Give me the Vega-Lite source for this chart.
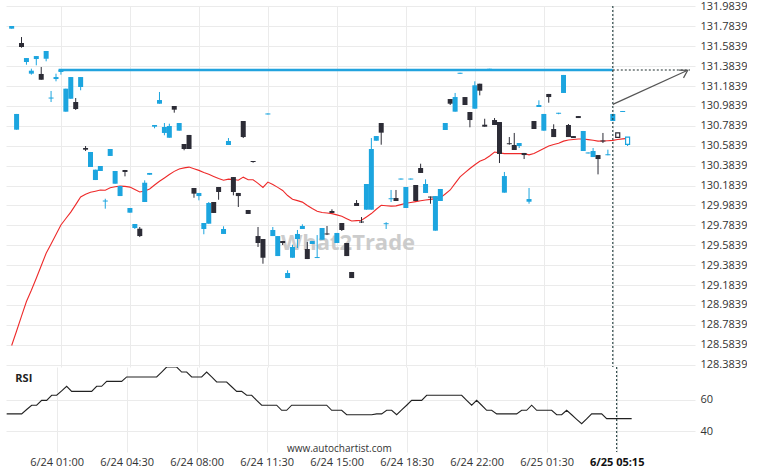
{
"$schema": "https://vega.github.io/schema/vega-lite/v6.json",
"padding": {"left": 6, "top": 0, "right": 0, "bottom": 0},
"bounds": "flush",
"spacing": 0,
"config": {"view": {"stroke": null}, "font": "Open Sans", "axis": {"gridColor": "#ebebeb", "domain": false, "ticks": false, "labelColor": "#333333", "labelFontSize": 11, "labelOverlap": false}},
"datasets": {
"k": [
{"t":"2024-06-23T22:30Z","o":131.760,"c":131.787,"h":131.787,"l":131.760,"ma":128.576,"rsi":51},
{"t":"2024-06-23T22:45Z","o":130.745,"c":130.903,"h":130.903,"l":130.745,"ma":128.722,"rsi":51},
{"t":"2024-06-23T23:00Z","o":131.616,"c":131.576,"h":131.676,"l":131.569,"ma":128.872,"rsi":51},
{"t":"2024-06-23T23:15Z","o":131.425,"c":131.465,"h":131.465,"l":131.398,"ma":129.018,"rsi":51},
{"t":"2024-06-23T23:30Z","o":131.308,"c":131.338,"h":131.358,"l":131.298,"ma":129.131,"rsi":53.8},
{"t":"2024-06-23T23:45Z","o":131.455,"c":131.485,"h":131.485,"l":131.392,"ma":129.252,"rsi":56.5},
{"t":"2024-06-24T00:00Z","o":131.305,"c":131.247,"h":131.375,"l":131.247,"ma":129.378,"rsi":56.5},
{"t":"2024-06-24T00:15Z","o":131.458,"c":131.536,"h":131.536,"l":131.432,"ma":129.503,"rsi":59.6},
{"t":"2024-06-24T00:30Z","o":131.058,"c":131.068,"h":131.134,"l":131.023,"ma":129.596,"rsi":59.6},
{"t":"2024-06-24T00:45Z","o":131.254,"c":131.274,"h":131.308,"l":131.231,"ma":129.691,"rsi":62.8},
{"t":"2024-06-24T01:00Z","o":131.325,"c":131.348,"h":131.348,"l":131.298,"ma":129.787,"rsi":62.8},
{"t":"2024-06-24T01:15Z","o":130.926,"c":131.157,"h":131.157,"l":130.926,"ma":129.852,"rsi":65.6},
{"t":"2024-06-24T01:30Z","o":131.056,"c":131.274,"h":131.274,"l":131.056,"ma":129.916,"rsi":68.5},
{"t":"2024-06-24T01:45Z","o":131.023,"c":130.953,"h":131.063,"l":130.943,"ma":129.992,"rsi":65.3},
{"t":"2024-06-24T02:00Z","o":131.174,"c":131.274,"h":131.274,"l":131.141,"ma":130.069,"rsi":65.3},
{"t":"2024-06-24T02:15Z","o":130.561,"c":130.544,"h":130.581,"l":130.531,"ma":130.096,"rsi":65.3},
{"t":"2024-06-24T02:30Z","o":130.370,"c":130.521,"h":130.521,"l":130.370,"ma":130.116,"rsi":65.3},
{"t":"2024-06-24T02:45Z","o":130.239,"c":130.343,"h":130.343,"l":130.239,"ma":130.127,"rsi":65.3},
{"t":"2024-06-24T03:00Z","o":130.330,"c":130.380,"h":130.380,"l":130.330,"ma":130.139,"rsi":68.5},
{"t":"2024-06-24T03:15Z","o":130.023,"c":130.033,"h":130.051,"l":129.951,"ma":130.137,"rsi":68.5},
{"t":"2024-06-24T03:30Z","o":130.481,"c":130.551,"h":130.551,"l":130.481,"ma":130.162,"rsi":71.6},
{"t":"2024-06-24T03:45Z","o":130.202,"c":130.330,"h":130.330,"l":130.202,"ma":130.172,"rsi":71.6},
{"t":"2024-06-24T04:00Z","o":130.078,"c":130.179,"h":130.179,"l":130.078,"ma":130.178,"rsi":71.6},
{"t":"2024-06-24T04:15Z","o":130.340,"c":130.320,"h":130.340,"l":130.276,"ma":130.175,"rsi":71.6},
{"t":"2024-06-24T04:30Z","o":129.911,"c":129.958,"h":129.958,"l":129.911,"ma":130.168,"rsi":74.4},
{"t":"2024-06-24T04:45Z","o":129.757,"c":129.797,"h":129.797,"l":129.747,"ma":130.143,"rsi":74.4},
{"t":"2024-06-24T05:00Z","o":129.750,"c":129.676,"h":129.767,"l":129.666,"ma":130.119,"rsi":74.4},
{"t":"2024-06-24T05:15Z","o":130.018,"c":130.212,"h":130.236,"l":130.018,"ma":130.129,"rsi":74.4},
{"t":"2024-06-24T05:30Z","o":130.292,"c":130.310,"h":130.310,"l":130.292,"ma":130.149,"rsi":74.4},
{"t":"2024-06-24T05:45Z","o":130.775,"c":130.792,"h":130.792,"l":130.759,"ma":130.189,"rsi":74.4},
{"t":"2024-06-24T06:00Z","o":131.006,"c":131.043,"h":131.124,"l":131.006,"ma":130.227,"rsi":74.4},
{"t":"2024-06-24T06:15Z","o":130.712,"c":130.772,"h":130.812,"l":130.689,"ma":130.260,"rsi":77.5},
{"t":"2024-06-24T06:30Z","o":130.664,"c":130.782,"h":130.805,"l":130.664,"ma":130.294,"rsi":80.7},
{"t":"2024-06-24T06:45Z","o":130.983,"c":130.946,"h":130.983,"l":130.916,"ma":130.326,"rsi":80.7},
{"t":"2024-06-24T07:00Z","o":130.735,"c":130.812,"h":130.812,"l":130.735,"ma":130.350,"rsi":80.7},
{"t":"2024-06-24T07:15Z","o":130.601,"c":130.551,"h":130.601,"l":130.538,"ma":130.361,"rsi":77.5},
{"t":"2024-06-24T07:30Z","o":130.692,"c":130.551,"h":130.692,"l":130.551,"ma":130.369,"rsi":77.5},
{"t":"2024-06-24T07:45Z","o":130.159,"c":130.102,"h":130.159,"l":130.061,"ma":130.353,"rsi":74.4},
{"t":"2024-06-24T08:00Z","o":130.078,"c":130.109,"h":130.109,"l":130.035,"ma":130.336,"rsi":74.4},
{"t":"2024-06-24T08:15Z","o":129.747,"c":129.807,"h":129.807,"l":129.694,"ma":130.315,"rsi":74.4},
{"t":"2024-06-24T08:30Z","o":129.800,"c":130.008,"h":130.018,"l":129.800,"ma":130.296,"rsi":77.5},
{"t":"2024-06-24T08:45Z","o":130.018,"c":129.908,"h":130.018,"l":129.908,"ma":130.275,"rsi":74.4},
{"t":"2024-06-24T09:00Z","o":130.169,"c":130.119,"h":130.169,"l":130.041,"ma":130.255,"rsi":71.2},
{"t":"2024-06-24T09:15Z","o":129.697,"c":129.747,"h":129.774,"l":129.697,"ma":130.237,"rsi":71.2},
{"t":"2024-06-24T09:30Z","o":130.591,"c":130.631,"h":130.661,"l":130.591,"ma":130.248,"rsi":71.2},
{"t":"2024-06-24T09:45Z","o":130.269,"c":130.119,"h":130.269,"l":130.085,"ma":130.245,"rsi":68.2},
{"t":"2024-06-24T10:00Z","o":130.109,"c":130.078,"h":130.109,"l":129.968,"ma":130.237,"rsi":65.3},
{"t":"2024-06-24T10:15Z","o":130.832,"c":130.671,"h":130.832,"l":130.661,"ma":130.268,"rsi":65.3},
{"t":"2024-06-24T10:30Z","o":129.938,"c":129.898,"h":129.938,"l":129.898,"ma":130.242,"rsi":62.8},
{"t":"2024-06-24T10:45Z","o":130.430,"c":130.420,"h":130.430,"l":130.413,"ma":130.242,"rsi":62.8},
{"t":"2024-06-24T11:00Z","o":129.676,"c":129.606,"h":129.767,"l":129.566,"ma":130.205,"rsi":59.6},
{"t":"2024-06-24T11:15Z","o":129.646,"c":129.458,"h":129.646,"l":129.398,"ma":130.164,"rsi":56.5},
{"t":"2024-06-24T11:30Z","o":130.898,"c":130.908,"h":130.908,"l":130.898,"ma":130.218,"rsi":56.5},
{"t":"2024-06-24T11:45Z","o":129.676,"c":129.737,"h":129.767,"l":129.676,"ma":130.193,"rsi":56.5},
{"t":"2024-06-24T12:00Z","o":129.475,"c":129.676,"h":129.676,"l":129.475,"ma":130.165,"rsi":56.5},
{"t":"2024-06-24T12:15Z","o":129.626,"c":129.606,"h":129.626,"l":129.586,"ma":130.134,"rsi":53.3},
{"t":"2024-06-24T12:30Z","o":129.254,"c":129.305,"h":129.332,"l":129.254,"ma":130.083,"rsi":53.3},
{"t":"2024-06-24T12:45Z","o":129.458,"c":129.566,"h":129.589,"l":129.458,"ma":130.046,"rsi":56.5},
{"t":"2024-06-24T13:00Z","o":129.646,"c":129.697,"h":129.737,"l":129.556,"ma":130.032,"rsi":56.5},
{"t":"2024-06-24T13:15Z","o":129.747,"c":129.777,"h":129.794,"l":129.747,"ma":130.017,"rsi":56.5},
{"t":"2024-06-24T13:30Z","o":129.546,"c":129.445,"h":129.616,"l":129.445,"ma":129.983,"rsi":56.5},
{"t":"2024-06-24T13:45Z","o":129.596,"c":129.626,"h":129.626,"l":129.596,"ma":129.952,"rsi":56.5},
{"t":"2024-06-24T14:00Z","o":129.455,"c":129.465,"h":129.686,"l":129.455,"ma":129.926,"rsi":56.5},
{"t":"2024-06-24T14:15Z","o":129.639,"c":129.757,"h":129.757,"l":129.639,"ma":129.913,"rsi":56.5},
{"t":"2024-06-24T14:30Z","o":129.702,"c":129.692,"h":129.777,"l":129.686,"ma":129.907,"rsi":56.5},
{"t":"2024-06-24T14:45Z","o":129.928,"c":129.908,"h":129.945,"l":129.908,"ma":129.901,"rsi":53.3},
{"t":"2024-06-24T15:00Z","o":129.606,"c":129.707,"h":129.707,"l":129.606,"ma":129.889,"rsi":53.3},
{"t":"2024-06-24T15:15Z","o":129.807,"c":129.737,"h":129.807,"l":129.727,"ma":129.876,"rsi":53.3},
{"t":"2024-06-24T15:30Z","o":129.606,"c":129.475,"h":129.606,"l":129.475,"ma":129.851,"rsi":50.5},
{"t":"2024-06-24T15:45Z","o":129.315,"c":129.254,"h":129.315,"l":129.254,"ma":129.827,"rsi":50.5},
{"t":"2024-06-24T16:00Z","o":130.008,"c":129.978,"h":130.038,"l":129.978,"ma":129.831,"rsi":50.5},
{"t":"2024-06-24T16:15Z","o":129.822,"c":129.812,"h":129.867,"l":129.807,"ma":129.835,"rsi":50.5},
{"t":"2024-06-24T16:30Z","o":129.941,"c":130.199,"h":130.199,"l":129.941,"ma":129.868,"rsi":50.5},
{"t":"2024-06-24T16:45Z","o":129.941,"c":130.551,"h":130.661,"l":129.941,"ma":129.902,"rsi":50.5},
{"t":"2024-06-24T17:00Z","o":130.634,"c":130.681,"h":130.681,"l":130.634,"ma":129.945,"rsi":51},
{"t":"2024-06-24T17:15Z","o":130.812,"c":130.715,"h":130.812,"l":130.594,"ma":129.985,"rsi":51},
{"t":"2024-06-24T17:30Z","o":129.795,"c":129.805,"h":129.815,"l":129.747,"ma":129.981,"rsi":53.3},
{"t":"2024-06-24T17:45Z","o":130.046,"c":130.056,"h":130.139,"l":130.018,"ma":129.977,"rsi":53.3},
{"t":"2024-06-24T18:00Z","o":130.058,"c":130.028,"h":130.139,"l":130.028,"ma":129.979,"rsi":50.5},
{"t":"2024-06-24T18:15Z","o":130.244,"c":130.254,"h":130.254,"l":130.244,"ma":129.992,"rsi":53.5},
{"t":"2024-06-24T18:30Z","o":129.958,"c":130.169,"h":130.169,"l":129.958,"ma":130.005,"rsi":56.5},
{"t":"2024-06-24T18:45Z","o":130.244,"c":130.254,"h":130.254,"l":130.244,"ma":130.014,"rsi":59.6},
{"t":"2024-06-24T19:00Z","o":130.189,"c":130.028,"h":130.189,"l":130.028,"ma":130.022,"rsi":59.6},
{"t":"2024-06-24T19:15Z","o":130.360,"c":130.310,"h":130.403,"l":130.310,"ma":130.030,"rsi":59.6},
{"t":"2024-06-24T19:30Z","o":130.109,"c":130.199,"h":130.246,"l":130.109,"ma":130.039,"rsi":62.8},
{"t":"2024-06-24T19:45Z","o":130.073,"c":130.063,"h":130.073,"l":130.001,"ma":130.045,"rsi":62.8},
{"t":"2024-06-24T20:00Z","o":129.730,"c":130.078,"h":130.078,"l":129.730,"ma":130.052,"rsi":62.8},
{"t":"2024-06-24T20:15Z","o":130.028,"c":130.149,"h":130.149,"l":130.028,"ma":130.060,"rsi":62.8},
{"t":"2024-06-24T20:30Z","o":130.742,"c":130.812,"h":130.812,"l":130.742,"ma":130.099,"rsi":62.8},
{"t":"2024-06-24T20:45Z","o":131.053,"c":131.006,"h":131.053,"l":130.993,"ma":130.139,"rsi":62.8},
{"t":"2024-06-24T21:00Z","o":130.926,"c":131.073,"h":131.114,"l":130.926,"ma":130.206,"rsi":62.8},
{"t":"2024-06-24T21:15Z","o":131.307,"c":131.317,"h":131.317,"l":131.307,"ma":130.271,"rsi":62.8},
{"t":"2024-06-24T21:30Z","o":131.073,"c":130.993,"h":131.073,"l":130.993,"ma":130.313,"rsi":59.6},
{"t":"2024-06-24T21:45Z","o":130.923,"c":130.842,"h":130.923,"l":130.769,"ma":130.355,"rsi":56.5},
{"t":"2024-06-24T22:00Z","o":130.956,"c":131.191,"h":131.231,"l":130.956,"ma":130.392,"rsi":59.6},
{"t":"2024-06-24T22:15Z","o":131.207,"c":131.137,"h":131.207,"l":131.090,"ma":130.427,"rsi":56.5},
{"t":"2024-06-24T22:30Z","o":130.795,"c":130.775,"h":130.855,"l":130.775,"ma":130.448,"rsi":53.3},
{"t":"2024-06-24T22:45Z","o":131.347,"c":131.357,"h":131.357,"l":131.347,"ma":130.481,"rsi":53.3},
{"t":"2024-06-24T23:00Z","o":130.842,"c":130.792,"h":130.862,"l":130.792,"ma":130.521,"rsi":51},
{"t":"2024-06-24T23:15Z","o":130.822,"c":130.501,"h":130.822,"l":130.410,"ma":130.512,"rsi":51},
{"t":"2024-06-24T23:30Z","o":130.112,"c":130.279,"h":130.320,"l":130.112,"ma":130.504,"rsi":51},
{"t":"2024-06-24T23:45Z","o":130.609,"c":130.599,"h":130.671,"l":130.594,"ma":130.504,"rsi":51},
{"t":"2024-06-25T00:00Z","o":130.591,"c":130.541,"h":130.712,"l":130.541,"ma":130.504,"rsi":51},
{"t":"2024-06-25T00:15Z","o":130.581,"c":130.611,"h":130.611,"l":130.561,"ma":130.504,"rsi":53.3},
{"t":"2024-06-25T00:30Z","o":130.511,"c":130.490,"h":130.511,"l":130.450,"ma":130.504,"rsi":53.3},
{"t":"2024-06-25T00:45Z","o":130.021,"c":130.048,"h":130.159,"l":130.001,"ma":130.492,"rsi":56.5},
{"t":"2024-06-25T01:00Z","o":130.832,"c":130.752,"h":130.832,"l":130.752,"ma":130.505,"rsi":53.3},
{"t":"2024-06-25T01:15Z","o":130.973,"c":130.993,"h":131.040,"l":130.973,"ma":130.530,"rsi":53.3},
{"t":"2024-06-25T01:30Z","o":130.735,"c":130.903,"h":130.903,"l":130.735,"ma":130.555,"rsi":53.3},
{"t":"2024-06-25T01:45Z","o":131.104,"c":131.073,"h":131.104,"l":131.016,"ma":130.580,"rsi":53.3},
{"t":"2024-06-25T02:00Z","o":130.752,"c":130.671,"h":130.799,"l":130.671,"ma":130.596,"rsi":50.5},
{"t":"2024-06-25T02:15Z","o":130.905,"c":130.915,"h":130.915,"l":130.900,"ma":130.608,"rsi":50.5},
{"t":"2024-06-25T02:30Z","o":131.114,"c":131.295,"h":131.295,"l":131.114,"ma":130.630,"rsi":53.3},
{"t":"2024-06-25T02:45Z","o":130.792,"c":130.671,"h":130.802,"l":130.671,"ma":130.641,"rsi":50.5},
{"t":"2024-06-25T03:00Z","o":130.681,"c":130.661,"h":130.681,"l":130.661,"ma":130.647,"rsi":47.6},
{"t":"2024-06-25T03:15Z","o":130.882,"c":130.862,"h":130.882,"l":130.862,"ma":130.652,"rsi":44.8},
{"t":"2024-06-25T03:30Z","o":130.531,"c":130.732,"h":130.732,"l":130.531,"ma":130.651,"rsi":47.9},
{"t":"2024-06-25T03:45Z","o":130.506,"c":130.516,"h":130.516,"l":130.506,"ma":130.645,"rsi":51},
{"t":"2024-06-25T04:00Z","o":130.470,"c":130.531,"h":130.561,"l":130.470,"ma":130.638,"rsi":51},
{"t":"2024-06-25T04:15Z","o":130.490,"c":130.450,"h":130.490,"l":130.296,"ma":130.630,"rsi":51},
{"t":"2024-06-25T04:30Z","o":130.636,"c":130.626,"h":130.712,"l":130.611,"ma":130.631,"rsi":48},
{"t":"2024-06-25T04:45Z","o":130.488,"c":130.498,"h":130.544,"l":130.488,"ma":130.634,"rsi":48},
{"t":"2024-06-25T05:00Z","o":130.832,"c":130.903,"h":130.903,"l":130.832,"ma":130.638,"rsi":48},
{"t":"2024-06-25T05:15Z","o":130.712,"c":130.668,"h":130.712,"l":130.668,"ma":130.646,"rsi":48,"live":true},
{"t":"2024-06-25T05:30Z","o":130.923,"c":130.933,"h":130.933,"l":130.923,"ma":130.653,"rsi":48},
{"t":"2024-06-25T05:45Z","o":130.598,"c":130.671,"h":130.671,"l":130.581,"ma":130.658,"rsi":48,"live":true}
],
"level": [{"t":"2024-06-24T00:53Z","p":131.345},{"t":"2024-06-25T05:00Z","p":131.345}],
"proj": [{"t":"2024-06-25T05:00Z","p":131.345},{"t":"2024-06-25T08:55Z","p":131.345}],
"arrow": [{"t":"2024-06-25T05:00Z","p":130.999},{"t":"2024-06-25T08:48Z","p":131.342}],
"head": [{"t":"2024-06-25T08:48Z","p":131.342}],
"now": [{"t":"2024-06-25T05:00Z"}],
"wm": [{"t":"2024-06-24T15:34Z","p":129.606}],
"one": [{}]
},
"vconcat": [
{
"width": 689, "height": 361,
"data": {"name": "k"},
"encoding": {"x": {"field": "t", "type": "temporal",
  "scale": {"type": "utc", "domain": [{"year":2024,"month":6,"date":23,"hours":22,"minutes":28,"utc":true},{"year":2024,"month":6,"date":25,"hours":8,"minutes":55,"utc":true}]},
  "axis": {"title": null, "labels": false, "grid": true, "tickCount": 20,
    "values": [{"year":2024,"month":6,"date":24,"hours":1,"utc":true},{"year":2024,"month":6,"date":24,"hours":4,"minutes":30,"utc":true},{"year":2024,"month":6,"date":24,"hours":8,"utc":true},{"year":2024,"month":6,"date":24,"hours":11,"minutes":30,"utc":true},{"year":2024,"month":6,"date":24,"hours":15,"utc":true},{"year":2024,"month":6,"date":24,"hours":18,"minutes":30,"utc":true},{"year":2024,"month":6,"date":24,"hours":22,"utc":true},{"year":2024,"month":6,"date":25,"hours":1,"minutes":30,"utc":true},{"year":2024,"month":6,"date":25,"hours":5,"utc":true}]}}},
"layer": [
{"data": {"name": "wm"}, "mark": {"type": "text", "fontSize": 22, "fontWeight": "bold", "color": "#c4c4c4", "opacity": 0.85},
 "encoding": {"y": {"field": "p", "type": "quantitative", "scale": {"domain": [128.36, 131.988], "nice": false, "zero": false},
   "axis": {"title": null, "orient": "right", "grid": true, "labelPadding": 5, "format": ".4f", "labelOverlap": false, "labelBound": false, "tickCount": 40,
     "values": [128.3839,128.5839,128.7839,128.9839,129.1839,129.3839,129.5839,129.7839,129.9839,130.1839,130.3839,130.5839,130.7839,130.9839,131.1839,131.3839,131.5839,131.7839,131.9839]}},
   "text": {"value": "What2Trade"}}},
{"data": {"name": "level"}, "mark": {"type": "line", "color": "#22a3de", "strokeWidth": 2.6, "clip": true},
 "encoding": {"y": {"field": "p", "type": "quantitative"}}},
{"data": {"name": "proj"}, "mark": {"type": "line", "color": "#1e2e2e", "strokeWidth": 1.2, "strokeDash": [2, 2], "clip": true},
 "encoding": {"y": {"field": "p", "type": "quantitative"}}},
{"mark": {"type": "line", "color": "#ee2a2a", "strokeWidth": 1.1, "clip": true},
 "encoding": {"y": {"field": "ma", "type": "quantitative"}}},
{"mark": {"type": "rule", "strokeWidth": 1, "clip": true},
 "encoding": {"y": {"field": "l", "type": "quantitative"}, "y2": {"field": "h"},
   "color": {"condition": {"test": "datum.c >= datum.o", "value": "#1ca5df"}, "value": "#2c2c36"}}},
{"transform": [{"filter": "!datum.live"}],
 "mark": {"type": "bar", "width": 5, "clip": true},
 "encoding": {"y": {"field": "o", "type": "quantitative"}, "y2": {"field": "c"},
   "color": {"condition": {"test": "datum.c >= datum.o", "value": "#1ca5df"}, "value": "#2c2c36"}}},
{"transform": [{"filter": "datum.live"}],
 "mark": {"type": "bar", "width": 4, "fill": "#ffffff", "strokeWidth": 1.2, "clip": true},
 "encoding": {"y": {"field": "o", "type": "quantitative"}, "y2": {"field": "c"},
   "stroke": {"condition": {"test": "datum.c >= datum.o", "value": "#1ca5df"}, "value": "#2c2c36"}}},
{"data": {"name": "now"}, "mark": {"type": "rule", "color": "#1e3b3b", "strokeWidth": 1.1, "strokeDash": [2, 2]},
 "encoding": {}},
{"data": {"name": "arrow"}, "mark": {"type": "line", "color": "#555555", "strokeWidth": 1.2},
 "encoding": {"y": {"field": "p", "type": "quantitative"}}},
{"data": {"name": "head"}, "mark": {"type": "point", "shape": "M-1,-0.6L0,0L-1,0.6", "filled": false, "stroke": "#555555", "strokeWidth": 1.2, "size": 220, "angle": 330, "opacity": 1},
 "encoding": {"y": {"field": "p", "type": "quantitative"}}}
]
},
{
"width": 689, "height": 85,
"data": {"name": "k"},
"layer": [
{"mark": {"type": "line", "color": "#222222", "strokeWidth": 1.1, "clip": true},
 "encoding": {"x": {"field": "t", "type": "temporal",
  "scale": {"type": "utc", "domain": [{"year":2024,"month":6,"date":23,"hours":22,"minutes":28,"utc":true},{"year":2024,"month":6,"date":25,"hours":8,"minutes":55,"utc":true}]},
  "axis": {"title": null, "grid": true, "labelPadding": 4, "tickCount": 20,
    "labelExpr": "datum.value > utc(2024,5,25,3,0) ? '6/25 05:15' : utcFormat(datum.value, '%-m/%d %H:%M')",
    "labelFontWeight": {"condition": {"test": "datum.value > utc(2024,5,25,3,0)", "value": "bold"}, "value": "normal"},
    "labelColor": {"condition": {"test": "datum.value > utc(2024,5,25,3,0)", "value": "#111111"}, "value": "#333333"},
    "values": [{"year":2024,"month":6,"date":24,"hours":1,"utc":true},{"year":2024,"month":6,"date":24,"hours":4,"minutes":30,"utc":true},{"year":2024,"month":6,"date":24,"hours":8,"utc":true},{"year":2024,"month":6,"date":24,"hours":11,"minutes":30,"utc":true},{"year":2024,"month":6,"date":24,"hours":15,"utc":true},{"year":2024,"month":6,"date":24,"hours":18,"minutes":30,"utc":true},{"year":2024,"month":6,"date":24,"hours":22,"utc":true},{"year":2024,"month":6,"date":25,"hours":1,"minutes":30,"utc":true},{"year":2024,"month":6,"date":25,"hours":5,"utc":true}]}},
  "y": {"field": "rsi", "type": "quantitative", "scale": {"domain": [26.9, 80.7], "nice": false, "zero": false},
    "axis": {"title": null, "orient": "right", "grid": true, "labelPadding": 5, "values": [40, 60]}}}},
{"data": {"name": "one"}, "mark": {"type": "rule", "color": "#1e3b3b", "strokeWidth": 1.1, "strokeDash": [2, 2]},
 "encoding": {"x": {"datum": {"year":2024,"month":6,"date":25,"hours":5,"utc":true}, "type": "temporal"}}},
{"data": {"name": "one"}, "mark": {"type": "text", "align": "left", "fontSize": 11, "fontWeight": "bold", "color": "#222222"},
 "encoding": {"x": {"datum": {"year":2024,"month":6,"date":23,"hours":22,"minutes":56,"utc":true}, "type": "temporal"},
   "y": {"datum": 73.3, "type": "quantitative"}, "text": {"value": "RSI"}}},
{"data": {"name": "one"}, "mark": {"type": "text", "fontSize": 10, "color": "#333333"},
 "encoding": {"x": {"datum": {"year":2024,"month":6,"date":24,"hours":15,"minutes":8,"utc":true}, "type": "temporal"},
   "y": {"datum": 29, "type": "quantitative"}, "text": {"value": "www.autochartist.com"}}}
]
}
]
}
